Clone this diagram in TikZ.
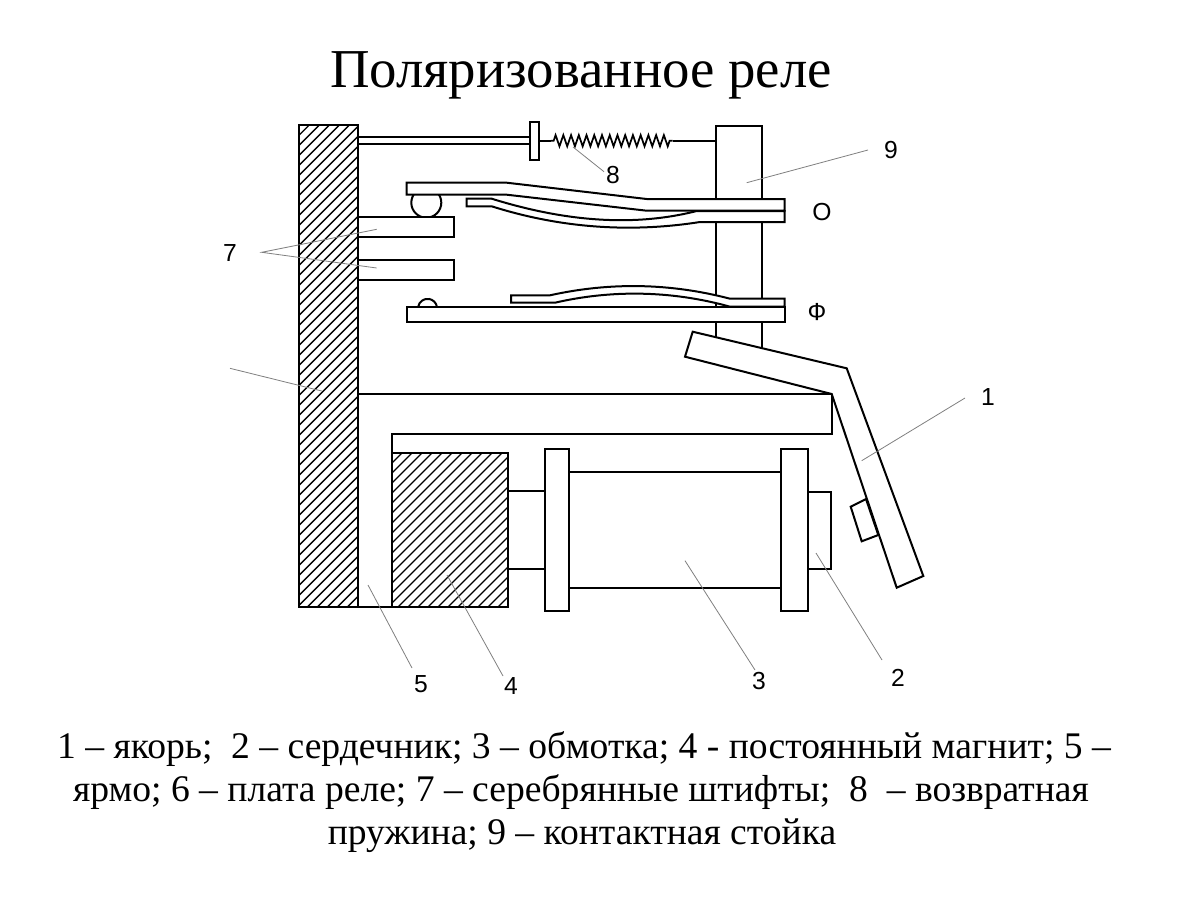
\documentclass[tikz,border=0pt]{standalone}
\usepackage{fontspec}
\setmainfont{Liberation Serif}
\setsansfont{Liberation Sans}
\usetikzlibrary{decorations.pathmorphing}
\tikzset{
  part/.style={draw=black,fill=white,line width=1.5pt,line join=miter},
  outline/.style={draw=black,line width=1.5pt},
  leader/.style={draw=black!50,line width=0.6pt},
  hatchline/.style={draw=black,line width=1pt},
  lbl/.style={font=\sffamily\fontsize{18.5}{22}\selectfont,inner sep=0pt},
  captxt/.style={font=\fontsize{28.2}{34}\selectfont,inner sep=0pt,align=center}
}
\begin{document}
\begin{tikzpicture}[x=0.75pt,y=-0.75pt]
\useasboundingbox[fill=white] (0,0) rectangle (1200,900);
% title
\node[inner sep=0pt,font=\fontsize{41.1}{48}\selectfont] (title) at (581,75) {Поляризованное реле};
% contact post
\draw[part] (716,126) rectangle (762,350);
% rod and stop
\draw[part] (358,137) rectangle (530,144);
\draw[part] (530,122) rectangle (538.5,160);
\coordinate (sprA) at (551,140.7);
\coordinate (sprB) at (672.6,140.7);
\draw[outline,line width=1.3pt] (538.5,140.7) -- (sprA);
\draw[outline,line width=1.3pt,decorate,decoration={zigzag,segment length=5.8pt,amplitude=4.2pt,pre length=2pt,post length=2pt}] (sprA) -- (sprB);
\draw[outline,line width=1.3pt] (sprB) -- (716,140.7);
% upper contact
\draw[part] (426.3,202.7) circle (15);
\draw[part] (466.7,198.7) -- (491.7,198.7) .. controls (560,220) and (630,228) .. (696.7,211) -- (784.7,211) -- (784.7,222) -- (700,222) .. controls (630,233) and (560,228) .. (491.7,206.3) -- (466.7,206.3) -- cycle;
\draw[part] (406.7,182.7) -- (506.7,182.7) -- (646.7,199) -- (784.7,199) -- (784.7,210.7) -- (646.7,210.7) -- (506.7,194.7) -- (406.7,194.7) -- cycle;
% lower contact
\draw[part] (418.2,306.7) arc[start angle=190,end angle=350,radius=9.5];
\draw[part] (511,295.3) -- (550,295.3) .. controls (610,282) and (670,283) .. (730,298.7) -- (784.7,298.7) -- (784.7,306.7) -- (730,306.7) .. controls (670,290) and (610,290) .. (555,302.7) -- (511,302.7) -- cycle;
\draw[part] (406.7,306.7) rectangle (784.7,322);
% pins
\draw[part] (358,217.3) rectangle (454,236.7);
\draw[part] (358,260) rectangle (454,279.7);
% yoke
\draw[outline] (358,394) -- (831.7,394) -- (831.7,434) -- (392,434) -- (392,607) -- (358,607);
% magnet
\draw[part] (392,453) rectangle (508,607);
\begin{scope}
\clip (392,453) rectangle (508,607);
\foreach \k in {0,1,...,30} \draw[hatchline] ({392+\k*10},453) -- ({392+\k*10-170},623);
\end{scope}
\draw[outline,fill=none] (392,453) rectangle (508,607);
% coil
\draw[part] (508,491) rectangle (545,569);
\draw[part] (569,472) rectangle (781,587.7);
\draw[part] (808,491.7) rectangle (831.3,568.7);
\draw[part] (545,449) rectangle (569,611);
\draw[part] (781,449) rectangle (808,611);
% armature
\draw[part] (850.7,506.7) -- (866,499) -- (878.3,535) -- (861.7,541.3) -- cycle;
\draw[part] (692.7,331.7) -- (846.7,368.3) -- (923.3,576) -- (896.7,587.7) -- (831.7,394) -- (685,356.7) -- cycle;
% board
\draw[part] (299,125.3) rectangle (357.5,607);
\begin{scope}
\clip (299,125.3) rectangle (357.5,607);
\foreach \k in {0,1,...,56} \draw[hatchline] ({299+\k*10},125.3) -- ({299+\k*10-500},625.3);
\end{scope}
\draw[outline,fill=none] (299,125.3) rectangle (357.5,607);
% labels
\node[lbl] (n9) at (891,150) {9};
\node[lbl] (nO) at (822,212) {О};
\node[lbl] (nF) at (817,312) {Ф};
\node[lbl] (n7) at (230,253) {7};
\node[lbl] (n1) at (988,397) {1};
\node[lbl] (n8) at (613,175) {8};
\node[lbl] (n5) at (421,684) {5};
\node[lbl] (n4) at (511,686) {4};
\node[lbl] (n3) at (759,681) {3};
\node[lbl] (n2) at (898,678) {2};
% leaders
\coordinate (l9a) at (746.7,182.7); \coordinate (l9b) at (868,150);
\coordinate (l8a) at (573,147); \coordinate (l8b) at (604,171.7);
\coordinate (l7) at (261.7,252.3); \coordinate (l7a) at (376.7,229.3); \coordinate (l7b) at (376.7,268);
\coordinate (l6a) at (230,368.3); \coordinate (l6b) at (321.7,391);
\coordinate (l1a) at (861.7,460.7); \coordinate (l1b) at (965,398);
\coordinate (l2a) at (816,553); \coordinate (l2b) at (882,660);
\coordinate (l3a) at (685,560.7); \coordinate (l3b) at (755,670);
\coordinate (l4a) at (447,575); \coordinate (l4b) at (503,676);
\coordinate (l5a) at (368,585); \coordinate (l5b) at (412,668);
\draw[leader] (l9a) -- (l9b);
\draw[leader] (l8a) -- (l8b);
\draw[leader] (l7a) -- (l7) -- (l7b);
\draw[leader] (l6a) -- (l6b);
\draw[leader] (l1a) -- (l1b);
\draw[leader] (l2a) -- (l2b);
\draw[leader] (l3a) -- (l3b);
\draw[leader] (l4a) -- (l4b);
\draw[leader] (l5a) -- (l5b);
% caption
\node[captxt] (c1) at (584,749) {1 – якорь;\ \ 2 – сердечник; 3 – обмотка; 4 - постоянный магнит; 5 –};
\node[captxt] (c2) at (581,792) {ярмо; 6 – плата реле; 7 – серебрянные штифты;\ \ 8\ \ – возвратная};
\node[captxt] (c3) at (582,836) {пружина; 9 – контактная стойка};
\end{tikzpicture}
\end{document}
